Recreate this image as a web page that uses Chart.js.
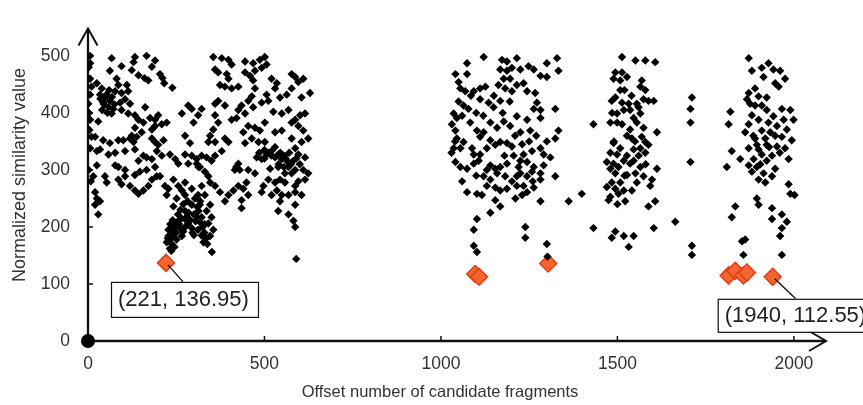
<!DOCTYPE html>
<html lang="en">
<head>
    <meta charset="UTF-8">
    <title>Normalized similarity value</title>
    <script src="https://cdn.jsdelivr.net/npm/chart.js"></script>
    <style>
        body { margin: 0; background: #fff; }
        #chart { display: block; }
    </style>
</head>
<body>
    <canvas id="chart" width="863" height="405"></canvas>

    <script>
        // tick labels
        const xTicks = [0, 500, 1000, 1500, 2000];
        const yTicks = [0, 100, 200, 300, 400, 500];

        // [offset, similarity], block by block
        const blockLeft = [
            [6,500],[6,487],[67,496],[62,474],[95,482],[133,498],[129,489],[166,500],[190,492],[181,481],[124,475],[143,466],
            [160,461],[204,468],[211,461],[171,457],[216,452],[239,444],[6,460],[10,446],[25,452],[39,443],[34,432],[48,427],
            [62,421],[43,418],[58,410],[72,407],[67,399],[81,460],[86,449],[77,438],[95,435],[110,449],[114,438],[105,424],
            [91,418],[119,416],[95,405],[114,399],[133,396],[162,410],[143,388],[157,383],[176,391],[190,388],[199,396],[209,380],
            [223,383],[190,377],[181,371],[133,374],[124,360],[152,366],[266,399],[284,413],[294,407],[299,383],[275,360],[289,347],
            [29,385],[6,432],[1,416],[6,388],[10,358],[20,358],[43,352],[62,347],[86,352],[100,352],[119,355],[129,349],
            [138,358],[181,355],[190,349],[199,344],[214,352],[195,333],[209,325],[232,327],[247,319],[256,311],[275,327],[294,325],
            [308,319],[313,305],[284,311],[6,338],[25,333],[34,336],[58,327],[77,330],[105,333],[133,336],[157,325],[143,316],
            [166,322],[181,319],[190,305],[166,300],[147,297],[133,291],[105,300],[86,305],[77,308],[25,308],[15,289],[48,289],
            [53,278],[86,283],[105,289],[95,275],[119,272],[133,264],[143,258],[157,264],[181,283],[195,289],[204,289],[218,272],
            [228,267],[223,256],[242,283],[256,272],[266,264],[275,256],[251,250],[242,236],[275,278],[294,267],[20,261],[25,250],
            [34,245],[20,239],[29,222],[171,272],[35,425],[45,415],[52,432],[60,440],[68,428],[75,415],[40,405],[55,400],
            [2,480],[3,400],[4,370],[2,300],[8,280]
        ];

        const blockDip = [
            [275,228],[294,239],[303,250],[256,211],[275,214],[247,206],[237,195],[228,184],[223,173],[232,162],[242,189],[261,198],
            [275,200],[284,206],[294,198],[308,217],[313,228],[232,178],[237,170],[266,184],[251,178],[240,185],[245,200],[250,190],
            [258,205],[265,215],[270,192],[280,218],[285,225],[290,212],[296,190],[300,222],[305,210],[310,235],[318,245],[325,200],
            [330,190],[335,180],[338,170],[245,165],[228,195],[233,205],[240,212],[262,230],[270,240],[282,245],[226,180],[236,158],
            [255,222],[300,186],[318,208],[322,185],[330,205],[312,256],[317,239],[322,217],[312,195],[327,173],[346,239],[336,228],
            [350,217],[341,206],[355,195],[346,184],[351,156],[322,272],[331,256],[346,278],[360,272],[374,261],[388,245],[398,256],
            [412,264]
        ];

        const blockMid = [
            [355,498],[379,496],[398,493],[407,485],[445,490],[468,487],[487,493],[501,498],[506,485],[492,479],[473,474],[445,471],
            [459,465],[360,476],[369,471],[393,468],[398,460],[374,449],[388,446],[407,443],[426,446],[468,457],[473,443],[520,460],
            [535,452],[530,443],[577,468],[587,463],[610,460],[596,454],[577,443],[629,435],[605,427],[563,432],[544,427],[506,432],
            [511,421],[492,418],[464,429],[454,421],[468,410],[435,413],[426,405],[445,399],[421,391],[407,388],[388,413],[369,421],
            [360,416],[322,407],[312,396],[360,396],[369,383],[355,371],[346,360],[341,349],[360,349],[388,355],[398,349],[379,333],
            [360,325],[350,316],[336,322],[322,325],[308,311],[317,305],[331,297],[341,289],[525,402],[549,399],[568,405],[587,388],
            [577,383],[601,396],[615,399],[596,377],[610,369],[624,355],[605,349],[587,338],[596,327],[615,322],[577,355],[549,369],
            [530,366],[501,383],[487,369],[473,374],[454,377],[440,366],[464,355],[445,347],[483,349],[501,349],[520,333],[506,327],
            [492,319],[478,322],[530,322],[539,327],[549,319],[563,316],[568,305],[539,305],[516,302],[558,294],[577,294],[587,300],
            [624,294],[615,283],[596,280],[587,272],[558,278],[544,283],[530,278],[511,283],[497,272],[473,294],[454,300],[426,311],
            [416,300],[449,278],[426,272],[440,267],[435,247],[435,233],[454,256],[492,261],[520,256],[535,264],[549,256],[544,245],
            [568,256],[587,261],[605,256],[587,239],[539,228],[568,222],[582,211],[587,200],[590,144],[500,335],[510,330],[520,325],
            [545,330],[555,325],[560,320],[570,330],[580,315],[590,320],[500,320],[485,330],[530,340],[540,310],[555,305],[575,310],
            [600,310],[610,300],[420,305],[430,300]
        ];

        const blockSecond = [
            [1074,487],[1121,498],[1173,493],[1187,490],[1215,496],[1300,487],[1329,496],[1041,468],[1074,468],[1050,454],[1055,443],
            [1069,438],[1093,438],[1111,443],[1126,446],[1168,476],[1187,474],[1201,479],[1225,476],[1248,482],[1263,476],[1282,465],
            [1300,463],[1333,474],[1178,460],[1196,460],[1163,449],[1182,443],[1201,438],[1215,449],[1234,452],[1244,438],[1267,435],
            [1111,424],[1135,418],[1149,410],[1168,421],[1064,413],[1078,407],[1036,399],[1045,391],[1031,380],[1041,369],[1045,355],
            [1036,338],[1055,338],[1064,349],[1083,383],[1102,369],[1111,358],[1121,366],[1140,383],[1159,374],[1178,385],[1196,377],
            [1215,394],[1244,388],[1282,391],[1272,418],[1263,407],[1282,405],[1324,407],[1225,366],[1253,369],[1333,369],[1324,355],
            [1140,352],[1154,344],[1168,349],[1187,347],[1201,341],[1088,338],[1093,327],[1111,327],[1130,338],[1234,327],[1258,333],
            [1282,338],[1291,327],[1310,322],[1041,314],[1055,305],[1074,302],[1093,311],[1107,316],[1140,308],[1154,302],[1168,305],
            [1187,311],[1206,325],[1225,316],[1244,314],[1263,305],[1291,308],[1121,289],[1140,283],[1159,294],[1182,289],[1201,280],
            [1215,289],[1225,294],[1244,289],[1258,297],[1282,294],[1324,289],[1130,272],[1154,269],[1168,264],[1187,267],[1215,272],
            [1234,272],[1244,261],[1263,269],[1282,283],[1074,261],[1102,258],[1116,256],[1154,247],[1168,236],[1211,250],[1230,256],
            [1282,245],[1362,245],[1140,225],[1102,214],[1093,195],[1093,167],[1102,156],[1239,200],[1239,181],[1300,170],[1302,148],
            [1399,258],[1050,420],[1060,395],[1040,350],[1030,330],[1085,430],[1100,400],[1120,395],[1150,430],[1175,400],[1195,420],
            [1210,360],[1230,345],[1250,350],[1270,360],[1300,350],[1260,280],[1220,305],[1180,325],[1130,300],[1100,290],[1060,280]
        ];

        const blockThird = [
            [1513,498],[1551,492],[1579,492],[1607,489],[1494,471],[1513,471],[1527,463],[1489,460],[1508,457],[1569,457],[1565,446],
            [1579,440],[1508,440],[1494,427],[1484,421],[1513,418],[1532,416],[1574,424],[1588,421],[1603,421],[1555,416],[1518,405],
            [1536,405],[1499,399],[1565,399],[1546,391],[1480,383],[1499,383],[1513,380],[1555,383],[1432,380],[1536,371],[1574,374],
            [1612,366],[1527,360],[1541,355],[1569,358],[1579,349],[1489,347],[1508,338],[1546,336],[1565,338],[1588,344],[1480,330],
            [1499,327],[1527,325],[1560,325],[1579,330],[1470,314],[1489,311],[1518,316],[1536,311],[1546,316],[1480,302],[1503,305],
            [1565,305],[1612,302],[1494,294],[1527,291],[1551,294],[1574,289],[1598,283],[1484,278],[1508,278],[1555,278],[1593,272],
            [1494,267],[1518,264],[1541,264],[1503,258],[1480,253],[1475,247],[1522,245],[1607,245],[1588,236],[1432,198],[1494,192],
            [1484,181],[1518,184],[1546,184],[1603,198],[1664,209],[1532,165],[1485,400],[1520,440],[1540,430],[1560,410],[1490,350],
            [1520,290],[1550,350],[1470,270],[1500,240],[1580,310]
        ];

        const blockSparse = [[1711,427],[1707,407],[1707,383],[1707,314],[1711,167],[1711,151]];

        const blockFourth = [
            [1872,496],[1928,487],[1909,479],[1942,476],[1961,474],[1881,474],[1914,463],[1975,460],[1947,452],[1957,446],[1890,443],
            [1872,435],[1900,429],[1867,424],[1923,427],[1876,416],[1890,413],[1909,413],[1820,402],[1923,405],[1966,407],[1990,405],
            [1881,396],[1942,394],[1900,388],[1971,388],[1999,388],[1815,380],[1872,380],[1928,383],[1952,377],[1980,371],[1862,366],
            [1909,369],[1933,366],[1947,360],[1890,355],[1919,355],[1966,358],[1994,352],[1895,344],[1923,344],[1952,341],[1872,338],
            [1900,336],[1975,338],[1824,333],[1848,319],[1909,327],[1938,325],[1886,319],[1923,316],[1985,319],[1810,305],[1872,308],
            [1895,305],[1947,302],[1881,297],[1914,294],[1938,289],[1900,283],[1919,278],[1985,275],[1990,258],[2002,256],[1895,250],
            [1900,239],[1834,236],[1938,233],[1824,217],[1938,214],[1966,222],[1980,209],[1966,198],[1961,184],[1862,178],[1853,175],
            [1857,151],[1966,151],[1885,360],[1930,340],[1905,310],[1960,330]
        ];

        // highlighted candidates
        const candidateOffsets = [221, 1097, 1108, 1304, 1815, 1834, 1857, 1867, 1940];
        const candidateValues = [136.95, 117.5, 112.6, 136, 115, 123, 115, 120, 112.55];

        // boxed labels: index into the candidates
        const calloutIndex = [0, 8];

        const allPoints = [].concat(blockLeft, blockDip, blockMid, blockSecond, blockThird, blockSparse, blockFourth)
            .map(p => ({ x: p[0], y: p[1] }));
        const candidates = candidateOffsets.map((v, i) => ({ x: v, y: candidateValues[i] }));

        const FONT = "'Liberation Sans', Arial, sans-serif";

        // axes with arrowheads, small inward ticks, origin dot
        const arrowAxes = {
            id: 'arrowAxes',
            beforeDatasetsDraw(chart) {
                const { ctx, chartArea: a, scales: { x, y } } = chart;
                const x0 = x.getPixelForValue(0);
                const y0 = y.getPixelForValue(0);
                ctx.save();
                ctx.strokeStyle = '#111';
                ctx.lineWidth = 2.3;
                ctx.beginPath();
                ctx.moveTo(x0, y0); ctx.lineTo(a.right, y0);
                ctx.moveTo(x0, y0); ctx.lineTo(x0, a.top);
                ctx.stroke();

                ctx.lineWidth = 2;
                ctx.beginPath();
                ctx.moveTo(a.right - 17, y0 - 10); ctx.lineTo(a.right, y0); ctx.lineTo(a.right - 17, y0 + 10);
                ctx.moveTo(x0 - 9.5, a.top + 17); ctx.lineTo(x0, a.top); ctx.lineTo(x0 + 9.5, a.top + 17);
                ctx.stroke();

                ctx.lineWidth = 1.5;
                ctx.beginPath();
                xTicks.slice(1).forEach(v => {
                    const px = x.getPixelForValue(v);
                    ctx.moveTo(px, y0); ctx.lineTo(px, y0 - 5);
                });
                yTicks.slice(1).forEach(v => {
                    const py = y.getPixelForValue(v);
                    ctx.moveTo(x0, py); ctx.lineTo(x0 + 5, py);
                });
                ctx.stroke();

                ctx.fillStyle = '#000';
                ctx.beginPath();
                ctx.arc(x0, y0, 7, 0, Math.PI * 2);
                ctx.fill();

                // axis titles
                ctx.fillStyle = '#333';
                ctx.textAlign = 'center';
                ctx.textBaseline = 'middle';
                ctx.font = '16.5px ' + FONT;
                ctx.fillText('Offset number of candidate fragments', 440, 392);
                ctx.translate(20, 175);
                ctx.rotate(-Math.PI / 2);
                ctx.font = '18px ' + FONT;
                ctx.fillText('Normalized similarity value', 0, 0);
                ctx.restore();
            },
            afterDatasetsDraw(chart) {
                const { ctx, scales: { x, y } } = chart;
                ctx.save();
                calloutIndex.forEach((idx, k) => {
                    const px = x.getPixelForValue(candidateOffsets[idx]);
                    const py = y.getPixelForValue(candidateValues[idx]);
                    const left = px - 55;
                    const top = py + (k === 0 ? 19 : 22);
                    const w = k === 0 ? 147 : 170;
                    const h = k === 0 ? 35 : 33;
                    const lx = px + (k === 0 ? 17 : 23);

                    ctx.strokeStyle = '#111';
                    ctx.lineWidth = 1.4;
                    ctx.beginPath();
                    ctx.moveTo(px + 2, py + 2);
                    ctx.lineTo(lx, top);
                    ctx.stroke();

                    ctx.fillStyle = '#fff';
                    ctx.fillRect(left, top, w, h);
                    ctx.lineWidth = 1.2;
                    ctx.strokeRect(left + 0.5, top + 0.5, w, h);

                    ctx.fillStyle = '#222';
                    ctx.font = '22px ' + FONT;
                    ctx.textAlign = 'left';
                    ctx.textBaseline = 'middle';
                    ctx.fillText('(' + candidateOffsets[idx] + ', ' + candidateValues[idx] + ')', left + 7, top + h / 2 + 1);
                });
                ctx.restore();
            }
        };

        new Chart(document.getElementById('chart'), {
            type: 'scatter',
            data: {
                datasets: [
                    {
                        label: 'Fragments',
                        data: allPoints,
                        pointStyle: 'rectRot',
                        radius: 4.2,
                        backgroundColor: '#000',
                        borderWidth: 0
                    },
                    {
                        label: 'Candidates',
                        data: candidates,
                        pointStyle: 'rectRot',
                        radius: 8.5,
                        backgroundColor: '#f4662e',
                        borderColor: '#e23d14',
                        borderWidth: 1.5
                    }
                ]
            },
            options: {
                responsive: false,
                animation: false,
                layout: { padding: { top: 10, right: 37, left: 0, bottom: 0 } },
                plugins: { legend: { display: false }, tooltip: { enabled: false } },
                scales: {
                    x: {
                        type: 'linear',
                        min: 0,
                        max: 2091,
                        grid: { display: false, drawTicks: false },
                        border: { display: false },
                        afterFit: s => { s.height = 64; },
                        afterBuildTicks: s => { s.ticks = xTicks.map(v => ({ value: v })); },
                        ticks: { padding: 13, color: '#333', font: { family: FONT, size: 17.5 }, callback: v => String(v) }
                    },
                    y: {
                        min: 0,
                        max: 548,
                        grid: { display: false, drawTicks: false },
                        border: { display: false },
                        afterFit: s => { s.width = 88; },
                        afterBuildTicks: s => { s.ticks = yTicks.map(v => ({ value: v })); },
                        ticks: { padding: 18, color: '#333', font: { family: FONT, size: 17.5 }, callback: v => String(v) }
                    }
                }
            },
            plugins: [arrowAxes]
        });
    </script>
</body>
</html>
